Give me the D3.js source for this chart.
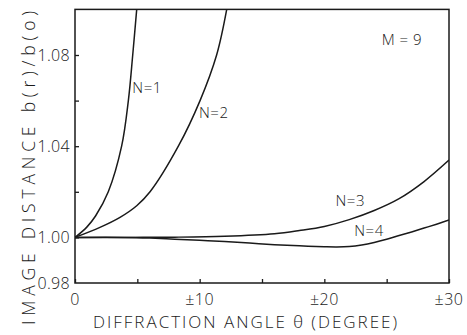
<!DOCTYPE html>
<html><head><meta charset="utf-8">
<script src="https://cdn.jsdelivr.net/npm/d3@7"></script>
<style>
html,body{margin:0;padding:0;background:#fff;}
svg{display:block;}
text{font-family:"Open Sans","DejaVu Sans",sans-serif;fill:#1a1a1a;font-weight:300;}
</style></head>
<body>
<svg id="chart" width="467" height="335"></svg>
<script>
// Data
const xTickValues = [0, 5, 10, 15, 20, 25, 30];
const xTickLabels = ["0", "", "±10", "", "±20", "", "±30"];
const yTickValues = [0.98, 1.00, 1.02, 1.04, 1.06, 1.08, 1.10];
const yTickLabels = ["0.98", "1.00", "", "1.04", "", "1.08", ""];

const seriesNames = ["N=1", "N=2", "N=3", "N=4"];
const n1Theta = [0, 0.93, 1.66, 2.67, 3.74, 4.28, 4.63, 4.95];
const n1Value = [1.000, 1.0044, 1.0095, 1.020, 1.040, 1.060, 1.080, 1.100];
const n2Theta = [0, 2.0, 3.61, 4.95, 6.02, 8.29, 10.03, 11.36, 12.17];
const n2Value = [1.000, 1.0044, 1.0088, 1.0139, 1.020, 1.040, 1.060, 1.080, 1.100];
const n3Theta = [0, 4, 8, 12, 16, 18, 20, 22, 24, 26, 28, 30];
const n3Value = [1.000, 1.0000, 1.0001, 1.0005, 1.0016, 1.0030, 1.0048, 1.0078, 1.0118, 1.0170, 1.0245, 1.0339];
const n4Theta = [0, 4, 6, 8, 10, 12, 14, 16, 18, 20, 21, 22, 23, 24, 25, 26, 27, 28, 29, 30];
const n4Value = [1.000, 1.0000, 0.9997, 0.9992, 0.9987, 0.9982, 0.9975, 0.9968, 0.9963, 0.9959, 0.9958, 0.9960, 0.9967, 0.9978, 0.9992, 1.0008, 1.0024, 1.0041, 1.0058, 1.0076];

const labelText = ["N=1", "N=2", "N=3", "N=4", "M = 9"];
const labelTheta = [4.6, 9.95, 20.9, 22.4, 24.6];
const labelValue = [1.0655, 1.0546, 1.0162, 1.0032, 1.0866];

const svg = d3.select("#chart");
const L = 75, R = 449, T = 9.4, B = 283;
const x = d3.scaleLinear().domain([0, 30]).range([L, R]);
const y = d3.scaleLinear().domain([0.98, 1.10]).range([B, T]);
const ink = "#1a1a1a";

svg.append("defs").append("clipPath").attr("id", "clip")
  .append("rect").attr("x", L).attr("y", T).attr("width", R - L).attr("height", B - T);

// frame
svg.append("rect").attr("x", L).attr("y", T).attr("width", R - L).attr("height", B - T)
  .attr("fill", "none").attr("stroke", ink).attr("stroke-width", 1.5);

// x axis (ticks inward)
const xAxis = d3.axisTop(x).tickValues(xTickValues).tickSize(4).tickFormat("");
const gx = svg.append("g").attr("transform", `translate(0,${B})`).call(xAxis);
gx.select(".domain").remove();
gx.selectAll("line").attr("stroke", ink).attr("stroke-width", 1.3);
svg.append("g").selectAll("text").data(xTickValues).join("text")
  .attr("x", d => x(d)).attr("y", 305).attr("text-anchor", "middle")
  .attr("font-size", 16).attr("letter-spacing", 0.5)
  .text((d, i) => xTickLabels[i]);

// y axis (ticks inward)
const yAxis = d3.axisRight(y).tickValues(yTickValues.slice(1, 6)).tickSize(4).tickFormat("");
const gy = svg.append("g").attr("transform", `translate(${L},0)`).call(yAxis);
gy.select(".domain").remove();
gy.selectAll("line").attr("stroke", ink).attr("stroke-width", 1.3);
svg.append("g").selectAll("text").data(yTickValues).join("text")
  .attr("x", 70).attr("y", d => y(d)).attr("dy", "0.36em").attr("text-anchor", "end")
  .attr("font-size", 16).attr("letter-spacing", 0.3)
  .text((d, i) => yTickLabels[i]);

// curves
const line = d3.line().x(d => x(d[0])).y(d => y(d[1])).curve(d3.curveCatmullRom.alpha(0.5));
const series = [[n1Theta, n1Value], [n2Theta, n2Value], [n3Theta, n3Value], [n4Theta, n4Value]];
svg.append("g").attr("clip-path", "url(#clip)").selectAll("path").data(series).join("path")
  .attr("d", s => line(s[0].map((t, i) => [t, s[1][i]])))
  .attr("fill", "none").attr("stroke", ink).attr("stroke-width", 1.5);

// annotations
svg.append("g").selectAll("text").data(labelText).join("text")
  .attr("x", (d, i) => x(labelTheta[i])).attr("y", (d, i) => y(labelValue[i]))
  .attr("dy", "0.36em").attr("font-size", 15).attr("letter-spacing", 0.5)
  .text(d => d);

// axis titles
svg.append("text").attr("x", 245).attr("y", 328).attr("text-anchor", "middle")
  .attr("font-size", 17).attr("textLength", 304).attr("lengthAdjust", "spacing")
  .text("DIFFRACTION ANGLE θ (DEGREE)");
svg.append("text").attr("transform", "translate(35,168) rotate(-90)").attr("text-anchor", "middle")
  .attr("font-size", 17.5).attr("textLength", 314).attr("lengthAdjust", "spacing")
  .text("IMAGE DISTANCE  b(r)/b(o)");
</script>
</body></html>
